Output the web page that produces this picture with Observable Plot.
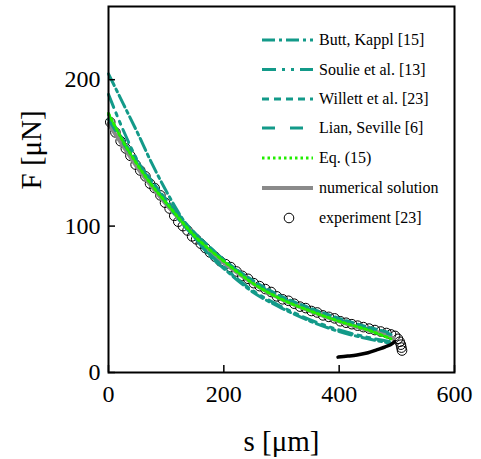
<!DOCTYPE html>
<html><head><meta charset="utf-8">
<script src="https://cdn.jsdelivr.net/npm/d3@7"></script>
<script src="https://cdn.jsdelivr.net/npm/@observablehq/plot@0.6"></script>
<style>
body{margin:0;background:#fff;}
#wrap{position:relative;width:481px;height:459px;}
#legend{position:absolute;left:0;top:0;pointer-events:none;}
svg, svg text{font-family:"Liberation Serif","Times New Roman",serif !important;}
</style></head><body><div id="wrap"></div>
<script>
const teal = "#139a89";
const xTicks = [0, 200, 400, 600];
const yTicks = [0, 100, 200];

const sModel = [0, 25, 50, 75, 100, 125, 150, 175, 200, 250, 300, 350, 400, 450, 490];
const buttKappl = [204, 184, 164, 143, 124, 107, 92, 80, 71, 55, 44, 35, 28, 23, 20];
const soulie = [190, 166, 145, 129, 116, 103, 92, 81, 72, 56, 45, 36, 29, 24, 21];
const willett = [176, 159, 144, 131, 118, 106, 95, 86, 77, 63, 52, 44, 37, 31, 27];
const lian = [173, 157, 143, 130, 117, 106, 95, 85, 77, 62, 51, 43, 36, 30, 26];
const eq15 = [177, 158, 142, 128, 116, 104, 93, 84, 76, 61, 50, 42, 35, 29, 23];

const sNum = [0, 25, 50, 75, 100, 125, 150, 175, 200, 250, 300, 350, 400, 450, 480, 495];
const fNum = [170, 155, 140, 127, 115, 104, 93, 83, 75, 61, 50, 42, 35, 29, 26, 23];

const sLower = [398, 415, 431, 450, 466, 480, 492, 496];
const fLower = [10.5, 11.2, 12, 13.5, 15.6, 17.5, 19.7, 21];

const sExp = [3,12,21,30,38,47,55,64,72,80,90,98,106,114,121,129,137,145,152,160,168,176,185,194,203,212,222,232,242,252,262,272,282,292,302,312,322,332,342,352,362,372,382,392,402,412,422,432,442,452,462,472,482,490,497,502,505,507,508,509];
const fExp = [171,164,158,153,148,142,138,134,129,126,121,116,112,107,103,100,97,93,91,88,85,82,79,76,74,72,69,66,64,61,59,57,55,52,50,49,47,45,44,42,41,39,38,37,35,34,33,32,31,30,29,28,27,26,25,23,21,19,17,15];

const legendLabels = ["Butt, Kappl [15]", "Soulie et al. [13]", "Willett et al. [23]", "Lian, Seville [6]", "Eq. (15)", "numerical solution", "experiment [23]"];

const series = [
  {name: legendLabels[0], f: buttKappl, dash: "13,4,3,4", color: teal, w: 3},
  {name: legendLabels[1], f: soulie, dash: "14,6,3,6,3,6", color: teal, w: 3},
  {name: legendLabels[2], f: willett, dash: "7,5", color: teal, w: 3},
  {name: legendLabels[3], f: lian, dash: "13,15", color: teal, w: 3}
];
const toRows = (xs, ys) => xs.map((x, i) => ({x, y: ys[i]}));

const expRows = toRows(sExp, fExp);
const marks = [
  Plot.dot(expRows, {x: "x", y: "y", r: 4.8, stroke: "black", strokeWidth: 1, fill: "none"}),
  Plot.line(toRows(sNum, fNum), {x: "x", y: "y", stroke: "#8a8a8a", strokeWidth: 4, curve: "monotone-x"}),
  ...series.map(s => Plot.line(toRows(sModel, s.f), {x: "x", y: "y", stroke: s.color, strokeWidth: s.w, strokeDasharray: s.dash, curve: "monotone-x"})),
  Plot.line(toRows(sModel, eq15), {x: "x", y: "y", stroke: "#22ee00", strokeWidth: 3, strokeDasharray: "2.5,3", curve: "monotone-x"}),
  Plot.line(toRows(sLower, fLower), {x: "x", y: "y", stroke: "black", strokeWidth: 3.5, curve: "monotone-x"}),
  Plot.frame({stroke: "black", strokeWidth: 2}),
  Plot.axisX({ticks: xTicks, tickSize: -7, tickPadding: 19, label: null, fontSize: 24, strokeWidth: 1.5}),
  Plot.axisY({ticks: yTicks, tickSize: -7, tickPadding: 15, label: null, fontSize: 24, strokeWidth: 1.5}),
  Plot.text(["s [μm]"], {frameAnchor: "bottom", dy: 69, fontSize: 29, lineAnchor: "middle"}),
  Plot.text(["F [μN]"], {frameAnchor: "left", dx: -77, rotate: -90, fontSize: 29, lineAnchor: "middle"})
];

const chart = Plot.plot({
  width: 481, height: 459,
  marginLeft: 108, marginRight: 27, marginTop: 6, marginBottom: 87,
  x: {domain: [0, 600]},
  y: {domain: [0, 250]},
  style: {fontFamily: "Liberation Serif, Times New Roman, serif", fontSize: "24px", color: "black", background: "white"},
  marks
});
const wrap = document.getElementById("wrap");
wrap.appendChild(chart);

// legend overlay
const ns = "http://www.w3.org/2000/svg";
const lg = document.createElementNS(ns, "svg");
lg.setAttribute("id", "legend");
lg.setAttribute("width", 481); lg.setAttribute("height", 459);
const rowY = [40, 69.5, 99, 128, 158, 188, 218];
const styles = [
  {dash: "13,4,3,4", color: teal, w: 3},
  {dash: "14,6,3,6,3,6", color: teal, w: 3},
  {dash: "7,5", color: teal, w: 3},
  {dash: "13,15", color: teal, w: 3},
  {dash: "2.5,3", color: "#22ee00", w: 3},
  {dash: null, color: "#8a8a8a", w: 4},
  null
];
legendLabels.forEach((lab, i) => {
  const y = rowY[i];
  if (styles[i]) {
    const l = document.createElementNS(ns, "line");
    l.setAttribute("x1", 262); l.setAttribute("x2", 313);
    l.setAttribute("y1", y); l.setAttribute("y2", y);
    l.setAttribute("stroke", styles[i].color);
    l.setAttribute("stroke-width", styles[i].w);
    if (styles[i].dash) l.setAttribute("stroke-dasharray", styles[i].dash);
    lg.appendChild(l);
  } else {
    const c = document.createElementNS(ns, "circle");
    c.setAttribute("cx", 289); c.setAttribute("cy", y); c.setAttribute("r", 4.8);
    c.setAttribute("fill", "none"); c.setAttribute("stroke", "black");
    lg.appendChild(c);
  }
  const t = document.createElementNS(ns, "text");
  t.setAttribute("x", 319); t.setAttribute("y", y);
  t.setAttribute("dy", "0.33em");
  t.setAttribute("font-size", 16);
  t.textContent = lab;
  lg.appendChild(t);
});
wrap.appendChild(lg);
</script></body></html>
